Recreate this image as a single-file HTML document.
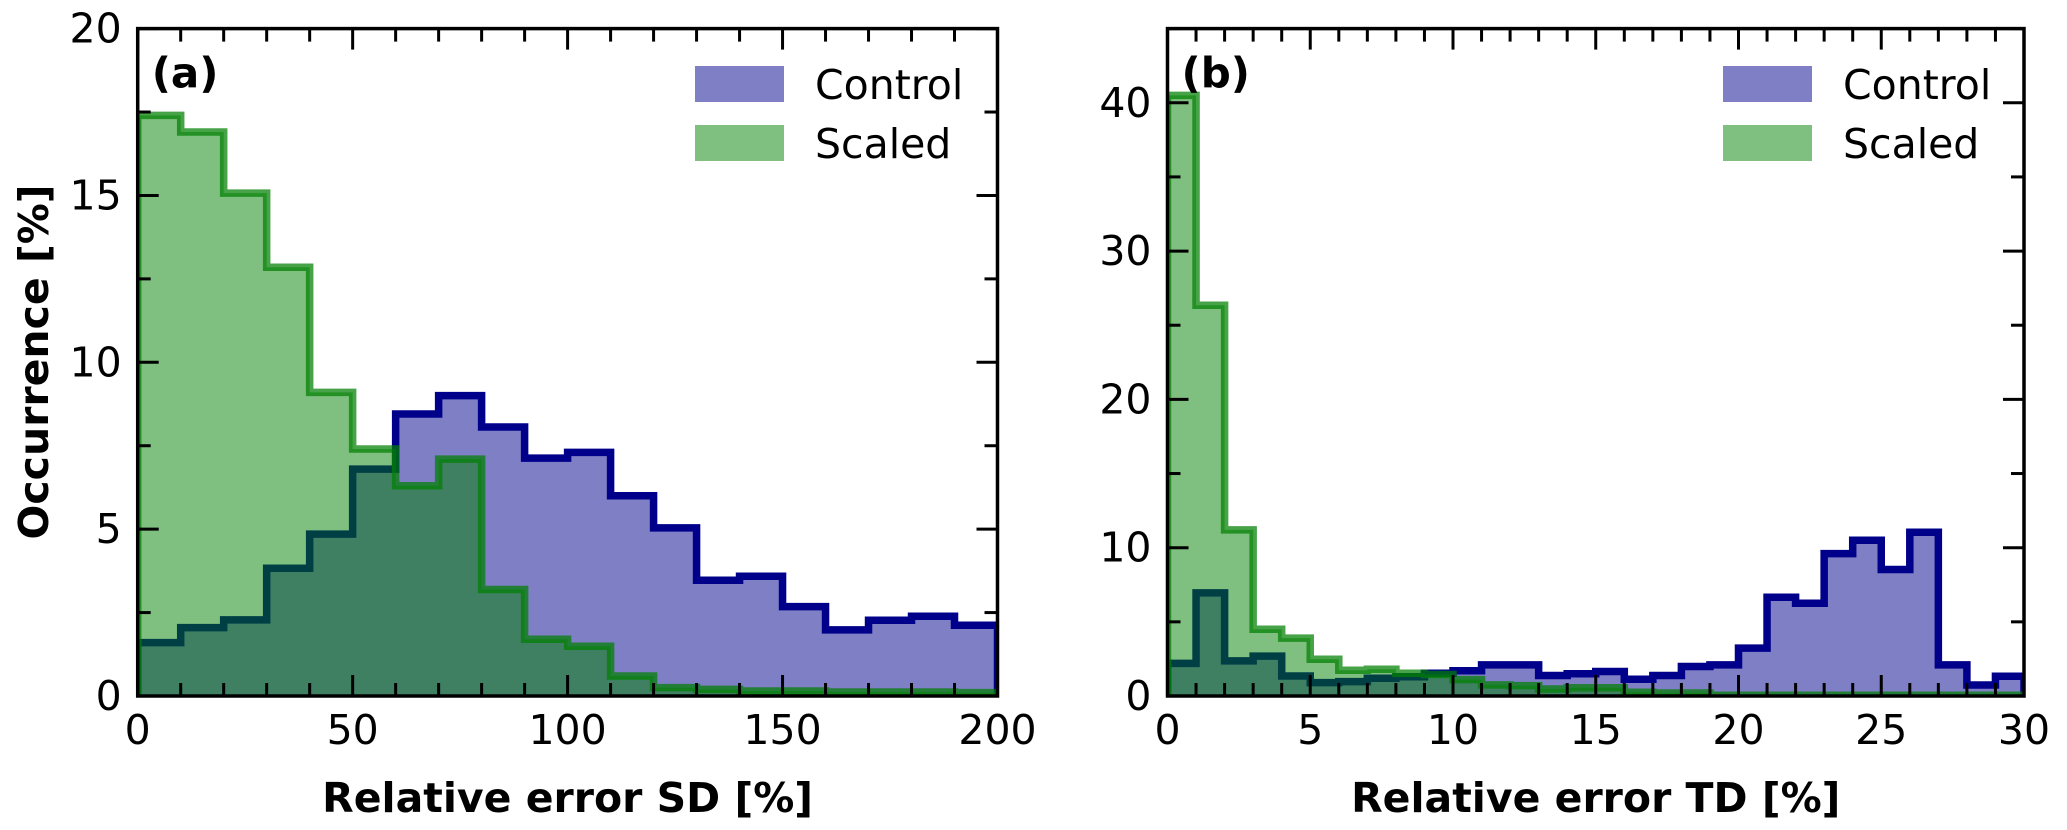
<!DOCTYPE html>
<html><head><meta charset="utf-8">
<style>
html,body{margin:0;padding:0;background:#fff;}
svg{display:block;font-family:"DejaVu Sans","Liberation Sans",sans-serif;}
</style></head>
<body>
<svg id="chart" width="2067" height="830" viewBox="0 0 2067 830" xmlns="http://www.w3.org/2000/svg"></svg>
<script>
// Panel (a) data: bins of 10% from 0 to 200
const aBinEdges = [0,10,20,30,40,50,60,70,80,90,100,110,120,130,140,150,160,170,180,190,200];
const aControl = [1.6,2.05,2.28,3.83,4.85,6.8,8.45,9.0,8.06,7.13,7.3,6.0,5.04,3.47,3.59,2.68,1.98,2.27,2.39,2.12];
const aScaled = [17.4,16.9,15.07,12.85,9.1,7.4,6.3,7.1,3.19,1.7,1.49,0.6,0.25,0.2,0.15,0.15,0.12,0.12,0.12,0.1];
const aXTicks = [0,50,100,150,200];
const aYTicks = [0,5,10,15,20];
// Panel (b) data: bins of 1% from 0 to 30
const bBinEdges = [0,1,2,3,4,5,6,7,8,9,10,11,12,13,14,15,16,17,18,19,20,21,22,23,24,25,26,27,28,29,30];
const bControl = [2.2,6.95,2.37,2.69,1.35,0.9,0.97,1.2,1.3,1.53,1.7,2.1,2.1,1.38,1.5,1.65,1.13,1.38,1.99,2.1,3.23,6.66,6.25,9.6,10.5,8.53,11.04,2.1,0.74,1.33];
const bScaled = [40.5,26.35,11.2,4.5,3.9,2.48,1.74,1.8,1.53,1.45,1.1,0.75,0.7,0.47,0.56,0.56,0.25,0.2,0.2,0.05,0.05,0.05,0.05,0.05,0.05,0.05,0.05,0.05,0.05,0.05];
const bXTicks = [0,5,10,15,20,25,30];
const bYTicks = [0,10,20,30,40];

const NS = "http://www.w3.org/2000/svg";
const svg = document.getElementById('chart');
function mk(tag, attrs, parent){
  const e = document.createElementNS(NS, tag);
  for (const k in attrs) e.setAttribute(k, attrs[k]);
  (parent||svg).appendChild(e);
  return e;
}

function panel(cfg){
  const g = mk('g', {});
  
  
  const L=cfg.left, R=cfg.right, T=cfg.top, B=cfg.bottom;
  const sx = v => L + (v - cfg.xmin) / (cfg.xmax - cfg.xmin) * (R - L);
  const sy = v => B - (v - cfg.ymin) / (cfg.ymax - cfg.ymin) * (B - T);
  const clipId = cfg.name + '-clip';
  const defs = mk('defs', {}, g);
  const cp = mk('clipPath', {id: clipId}, defs);
  mk('rect', {x:L, y:T, width:R-L, height:B-T}, cp);
  const plot = mk('g', {'clip-path':'url(#'+clipId+')'}, g);

  function stepPath(edges, vals){
    let d = 'M' + sx(edges[0]) + ',' + sy(0);
    for (let i=0;i<vals.length;i++){
      d += ' L' + sx(edges[i]) + ',' + sy(vals[i]) + ' L' + sx(edges[i+1]) + ',' + sy(vals[i]);
    }
    d += ' L' + sx(edges[edges.length-1]) + ',' + sy(0);
    return d;
  }
  const cFill = mk('path', {d: stepPath(cfg.edges, cfg.control) + ' Z', fill:'rgba(0,0,139,0.5)', stroke:'none'}, plot);
  
  
  const cLine = mk('path', {d: stepPath(cfg.edges, cfg.control), fill:'none', stroke:'#00008b', 'stroke-width':7.5, 'stroke-linejoin':'miter'}, plot);
  
  
  const sFill = mk('path', {d: stepPath(cfg.edges, cfg.scaled) + ' Z', fill:'rgba(0,128,0,0.5)', stroke:'none'}, plot);
  
  
  const sLine = mk('path', {d: stepPath(cfg.edges, cfg.scaled), fill:'none', stroke:'rgba(0,128,0,0.72)', 'stroke-width':7.5, 'stroke-linejoin':'miter'}, plot);
  
  

  const tk = mk('g', {stroke:'#000', 'stroke-width':3}, g);
  
  
  for (let v = cfg.xmin; v <= cfg.xmax + 1e-9; v += cfg.xminor){
    const major = Math.abs(v/cfg.xmajor - Math.round(v/cfg.xmajor)) < 1e-6;
    const len = major ? 21 : 13;
    const x = sx(v);
    mk('line', {x1:x, y1:B, x2:x, y2:B-len}, tk);
    mk('line', {x1:x, y1:T, x2:x, y2:T+len}, tk);
  }
  for (let v = cfg.ymin; v <= cfg.ymax + 1e-9; v += cfg.yminor){
    const major = Math.abs(v/cfg.ymajor - Math.round(v/cfg.ymajor)) < 1e-6;
    const len = major ? 21 : 13;
    const y = sy(v);
    mk('line', {x1:L, y1:y, x2:L+len, y2:y}, tk);
    mk('line', {x1:R, y1:y, x2:R-len, y2:y}, tk);
  }
  const frame = mk('rect', {x:L, y:T, width:R-L, height:B-T, fill:'none', stroke:'#000', 'stroke-width':3.5}, g);
  
  

  cfg.xticks.forEach(v => {
    const t = mk('text', {x:sx(v), y:B+48, 'text-anchor':'middle', 'font-size':41, fill:'#000'}, g);
    t.textContent = v;
    
    
  });
  cfg.yticks.forEach(v => {
    const t = mk('text', {x:L-16, y:sy(v)+14, 'text-anchor':'end', 'font-size':41, fill:'#000'}, g);
    t.textContent = v;
    
    
  });
  const xt = mk('text', {x:(L+R)/2, y:812, 'text-anchor':'middle', 'font-size':41, 'font-weight':'bold', fill:'#000'}, g);
  xt.textContent = cfg.xtitle;
  
  

  const pl = mk('text', {x:L+14, y:T+59, 'font-size':42, 'font-weight':'bold', fill:'#000'}, g);
  pl.textContent = cfg.label;
  
  

  const lg = mk('g', {}, g);
  
  
  const items = [['Control','rgba(0,0,139,0.5)'],['Scaled','rgba(0,128,0,0.5)']];
  items.forEach((it, i) => {
    const y0 = 66 + i*59;
    const r = mk('rect', {x:cfg.legendX, y:y0, width:89, height:36, fill:it[1]}, lg);
    
    
    const t = mk('text', {x:cfg.legendX+120, y:y0+33, 'font-size':41, fill:'#000'}, lg);
    t.textContent = it[0];
    
    
  });
}

panel({name:'panel-a', left:137.7, right:997.5, top:28.6, bottom:696,
  xmin:0, xmax:200, ymin:0, ymax:20, xmajor:50, xminor:10, ymajor:5, yminor:2.5,
  edges:aBinEdges, control:aControl, scaled:aScaled, xticks:aXTicks, yticks:aYTicks,
  xtitle:'Relative error SD [%]', label:'(a)', legendX:695});
panel({name:'panel-b', left:1167.5, right:2024, top:28.6, bottom:696,
  xmin:0, xmax:30, ymin:0, ymax:45, xmajor:5, xminor:1, ymajor:10, yminor:5,
  edges:bBinEdges, control:bControl, scaled:bScaled, xticks:bXTicks, yticks:bYTicks,
  xtitle:'Relative error TD [%]', label:'(b)', legendX:1723});

const yt = mk('text', {x:0, y:0, 'text-anchor':'middle', 'font-size':41, 'font-weight':'bold', fill:'#000', transform:'translate(48,362) rotate(-90)'});
yt.textContent = 'Occurrence [%]';


</script>
</body></html>
